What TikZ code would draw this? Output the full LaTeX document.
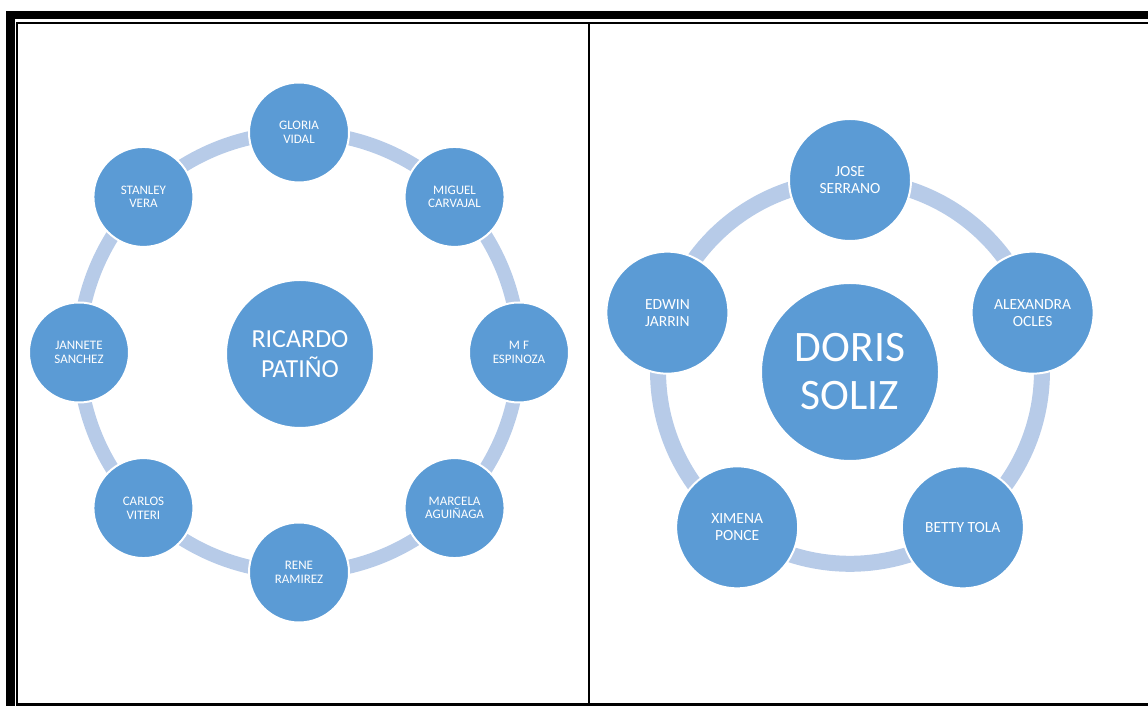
\documentclass[tikz,border=0pt]{standalone}
\usepackage{fontspec}
\setmainfont{Carlito}
\usetikzlibrary{calc}
\usetikzlibrary{backgrounds}
\usetikzlibrary{positioning}

\definecolor{memberblue}{RGB}{91,155,213}
\definecolor{ringblue}{RGB}{183,203,232}

\begin{document}
\begin{tikzpicture}[
    x=1pt, y=1pt,
    member/.style={circle, fill=memberblue, draw=white, line width=2pt,
    text=white, align=center, inner sep=0pt},
    small left/.style={member, minimum size=100pt,
    font=\fontsize{13}{13.5}\selectfont},
    small right/.style={member, minimum size=122pt,
    font=\fontsize{15.5}{17}\selectfont},
    ring left/.style={ringblue, line width=14pt, bend left=22.5, looseness=0.885},
    ring right/.style={ringblue, line width=16pt, bend left=36, looseness=0.94},
    rule/.style={black, line width=2pt}
    ]

\useasboundingbox (0,0) rectangle (1148,706);

\newcommand{\ringL}{220}
\newcommand{\ringR}{192}
\coordinate (LC) at (299,353.5);
\coordinate (RC) at (850,334);

% frame
\fill[black] (6,0) rectangle (15,695);
\fill[black] (6,687) rectangle (1148,695);
\draw[rule] (16,683) -- (1148,683);
\draw[rule] (17,0) -- (17,684);
\draw[rule] (589,0) -- (589,683);
\draw[black, line width=3pt] (16,1.5) -- (1148,1.5);

% left group
\node[member, minimum size=148pt, font=\fontsize{26}{30}\selectfont]
    (ricardo) at ($(LC)+(1,-1.5)$) {RICARDO\\PATIÑO};
\node[small left] (gloria) at ($(LC)+(90:\ringL)$) {GLORIA\\VIDAL};
\node[small left] (miguel) at ($(LC)+(45:\ringL)$) {MIGUEL\\CARVAJAL};
\node[small left] (espinoza) at ($(LC)+(0:\ringL)$) {M F\\ESPINOZA};
\node[small left] (marcela) at ($(LC)+(-45:\ringL)$) {MARCELA\\AGUIÑAGA};
\node[small left] (rene) at ($(LC)+(-90:\ringL)$) {RENE\\RAMIREZ};
\node[small left] (carlos) at ($(LC)+(-135:\ringL)$) {CARLOS\\VITERI};
\node[small left] (jannete) at ($(LC)+(180:\ringL)$) {JANNETE\\SANCHEZ};
\node[small left] (stanley) at ($(LC)+(135:\ringL)$) {STANLEY\\VERA};

% right group
\node[member, minimum size=178pt, font=\fontsize{43.5}{48}\selectfont]
    (doris) at (RC) {DORIS\\SOLIZ};
\node[small right] (jose) at ($(RC)+(90:\ringR)$) {JOSE\\SERRANO};
\node[small right] (alexandra) at ($(RC)+(18:\ringR)$) {ALEXANDRA\\OCLES};
\node[small right] (betty) at ($(RC)+(-54:\ringR)$) {BETTY TOLA};
\node[small right] (ximena) at ($(RC)+(-126:\ringR)$) {XIMENA\\PONCE};
\node[small right] (edwin) at ($(RC)+(162:\ringR)$) {EDWIN\\JARRIN};

% rings
\begin{scope}[on background layer]
\draw[ring left] (gloria.center) to (miguel.center);
\draw[ring left] (miguel.center) to (espinoza.center);
\draw[ring left] (espinoza.center) to (marcela.center);
\draw[ring left] (marcela.center) to (rene.center);
\draw[ring left] (rene.center) to (carlos.center);
\draw[ring left] (carlos.center) to (jannete.center);
\draw[ring left] (jannete.center) to (stanley.center);
\draw[ring left] (stanley.center) to (gloria.center);

\draw[ring right] (jose.center) to (alexandra.center);
\draw[ring right] (alexandra.center) to (betty.center);
\draw[ring right] (betty.center) to (ximena.center);
\draw[ring right] (ximena.center) to (edwin.center);
\draw[ring right] (edwin.center) to (jose.center);
\end{scope}

\end{tikzpicture}
\end{document}
